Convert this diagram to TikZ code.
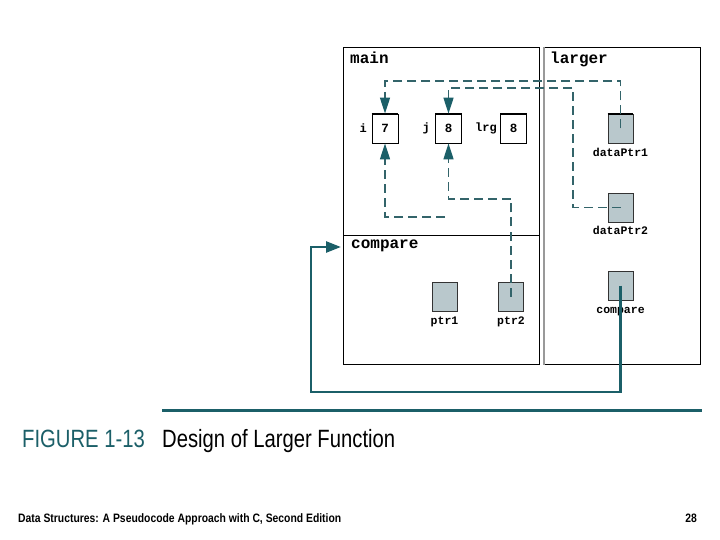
\documentclass[tikz,border=0pt]{standalone}
\usepackage{fontspec}
\setmainfont{Liberation Sans}
\newfontfamily\codefont{Liberation Mono}
\usetikzlibrary{arrows.meta}
\definecolor{tealA}{HTML}{1B5F68}
\definecolor{dashc}{HTML}{33646A}
\definecolor{boxfill}{HTML}{B9C8CC}
\begin{document}
\begin{tikzpicture}[x=1pt,y=-1pt,
  frame/.style={draw=black, line width=1pt, inner sep=0pt, anchor=north west},
  valbox/.style={draw=black, line width=0.8pt, fill=white, minimum width=26pt, minimum height=29pt, inner sep=0pt, font=\codefont\bfseries\fontsize{12.5}{14}\selectfont},
  ptrbox/.style={draw=black!80, line width=0.8pt, fill=boxfill, minimum width=25pt, minimum height=29pt, inner sep=0pt},
  title/.style={font=\codefont\bfseries\fontsize{16}{18}\selectfont, anchor=base west, inner sep=0pt},
  lbl/.style={font=\codefont\bfseries\fontsize{11.5}{13}\selectfont, anchor=base, inner sep=0pt},
  dashline/.style={draw=dashc, line width=1.4pt, dash pattern=on 9pt off 5pt},
  tipA/.style={-{Triangle[length=16pt,width=10pt,color=tealA]}},
  solidline/.style={draw=tealA, line width=2.6pt}
]
\useasboundingbox (0,0) rectangle (720,540);
\fill[white] (0,0) rectangle (720,540);

% frames
\node[frame, minimum width=196pt, minimum height=317pt] (mainbox) at (343,47) {};
\node[frame, minimum width=156pt, minimum height=317pt] (largerbox) at (544,47) {};
\draw[black!40, line width=1.5pt] (largerbox.north west) -- (largerbox.south west);
\coordinate (dl) at (343,235);
\coordinate (dr) at (539,235);
\draw[line width=1pt] (dl) -- (dr);

% titles
\node[title] (tmain) at (350,64) {main};
\node[title] (tlarger) at (550,64) {larger};
\node[title] (tcompare) at (351,248) {compare};

% main variables
\node[valbox] (i) at (385,128.5) {7};
\node[valbox] (j) at (448.5,128.5) {8};
\node[valbox] (lrg) at (513.5,128.5) {8};
\node[lbl, anchor=east, font=\codefont\bfseries\fontsize{12}{13}\selectfont] (li) at (367,128.5) {i};
\node[lbl, anchor=east, font=\codefont\bfseries\fontsize{12}{13}\selectfont] (lj) at (430,128.5) {j};
\node[lbl, anchor=east, font=\codefont\bfseries\fontsize{12}{13}\selectfont] (llrg) at (497,128.5) {lrg};
\foreach \n in {i,j,lrg} \draw[line width=2pt] (\n.north west) -- (\n.north east);

% larger pointers
\node[ptrbox] (dp1) at (620.5,128.5) {};
\node[ptrbox] (dp2) at (620.5,207.5) {};
\node[ptrbox] (cmp) at (620.5,285.5) {};
\draw[line width=2pt] (dp1.north west) -- (dp1.north east);
\node[lbl] (ldp1) at (620.5,157) {dataPtr1};
\node[lbl] (ldp2) at (620.5,235) {dataPtr2};
\node[lbl] (lcmp) at (620.5,313) {compare};

% compare pointers
\node[ptrbox] (p1) at (444.5,296.5) {};
\node[ptrbox] (p2) at (511,296.5) {};
\node[lbl] (lp1) at (444.5,324) {ptr1};
\node[lbl] (lp2) at (511,324) {ptr2};

% dashed connectors
\coordinate (t1) at (385,81);
\draw[dashline, tipA] (dp1.center) |- (t1) -- (i.north);
\coordinate (t2) at (573,88);
\coordinate (t2b) at (448.5,88);
\draw[dashline, tipA] (dp2.center) -| (t2) -- (t2b) -- (j.north);
\coordinate (e1) at (445,217);
\draw[dashline, tipA] (e1) -| (i.south);
\coordinate (t3) at (448.5,199);
\draw[dashline, tipA] (p2.center) |- (t3) -- (j.south);

% solid connector
\coordinate (b1) at (311,392);
\coordinate (c1) at (341,247);
\draw[solidline, -{Triangle[length=15pt,width=11pt]}] (cmp.center) |- (b1) |- (c1);

% caption
\draw[tealA, line width=3pt] (162,410) -- (702,410);
\node[anchor=base west, inner sep=0pt, text=tealA] (fig) at (22,447) {\scalebox{0.81}[1]{\fontsize{25}{28}\selectfont FIGURE 1-13}};
\node[anchor=base west, inner sep=0pt] (cap) at (162,447) {\scalebox{0.81}[1]{\fontsize{25}{28}\selectfont Design of Larger Function}};

% footer
\node[anchor=base west, inner sep=0pt] (foot) at (18,522) {\scalebox{0.85}[1]{\fontsize{12.2}{14}\selectfont\bfseries Data Structures: A Pseudocode Approach with C, Second Edition}};
\node[anchor=base east, inner sep=0pt] (page) at (697,522) {\scalebox{0.85}[1]{\fontsize{12.2}{14}\selectfont\bfseries 28}};
\end{tikzpicture}
\end{document}
